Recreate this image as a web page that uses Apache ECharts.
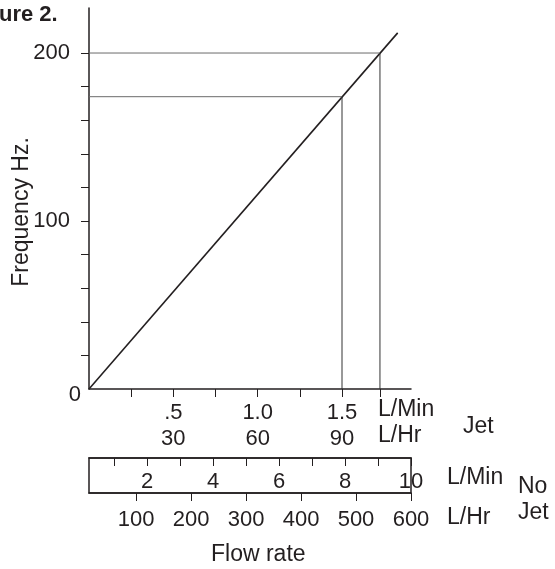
<!DOCTYPE html>
<html>
<head>
<meta charset="utf-8">
<script src="https://cdn.jsdelivr.net/npm/echarts@6/dist/echarts.min.js"></script>
<style>html,body{margin:0;padding:0;background:#fff}#c{width:555px;height:569px}</style>
</head>
<body>
<div id="c"></div>
<script>
// ---- data ----
const lineFlow = [0, 1.83];        // L/Min (jet)
const lineFreq = [0, 212];         // Hz
const guideFlow = [1.5, 1.725];    // L/Min read-offs
const guideFreq = [174, 200];      // Hz read-offs
const freqTicks = [20, 40, 60, 80, 100, 120, 140, 160, 180, 200];
const freqLabels = [0, 100, 200];
const jetTicks = [0.25, 0.5, 0.75, 1.0, 1.25, 1.5, 1.725];
const jetLabelValues = [0.5, 1.0, 1.5];
const jetMinLabels = ['.5', '1.0', '1.5'];
const jetHrLabels = ['30', '60', '90'];
const noJetMinTicks = [1, 2, 3, 4, 5, 6, 7, 8, 9, 10];
const noJetMinLabels = [2, 4, 6, 8, 10];
const noJetHrTicks = [100, 200, 300, 400, 500, 600];
const noJetHrLabels = [100, 200, 300, 400, 500, 600];

const INK = '#231f20';
const FONT = 'Liberation Sans, Arial, Helvetica, sans-serif';

const guideSeries = [];
guideFlow.forEach((x, i) => {
  const f = guideFreq[i];
  guideSeries.push({
    type: 'line', xAxisIndex: 0, yAxisIndex: 0, symbol: 'none', silent: true,
    data: [[0, f], [x, f]], lineStyle: { color: '#6a6a6a', width: 1 }
  });
  guideSeries.push({
    type: 'line', xAxisIndex: 0, yAxisIndex: 0, symbol: 'none', silent: true,
    data: [[x, 0], [x, f]], lineStyle: { color: '#333333', width: 1 }
  });
});

function near(a, b) { return Math.abs(a - b) < 1e-6; }
function txt(text, left, top) {
  return { type: 'text', left: left, top: top, silent: true,
    style: { text: text, font: '23px ' + FONT, fill: INK, lineHeight: 26 } };
}

const chart = echarts.init(document.getElementById('c'), null, { renderer: 'canvas' });
chart.setOption({
  animation: false,
  backgroundColor: '#fff',
  textStyle: { fontFamily: FONT, color: INK },
  title: {
    text: 'Figure 2.', left: -34, top: 4, padding: 0,
    textStyle: { fontFamily: FONT, fontSize: 22, fontWeight: 'bold', color: INK }
  },
  grid: [
    { left: 89, top: 8, width: 322, height: 381, show: false, containLabel: false, outerBoundsMode: 'none' },
    { left: 89, top: 458, width: 322, height: 35, show: true, borderColor: INK, borderWidth: 1.5,
      backgroundColor: 'transparent', containLabel: false, outerBoundsMode: 'none' }
  ],
  xAxis: [
    {
      gridIndex: 0, type: 'value', min: 0, max: 1.909, position: 'bottom',
      splitLine: { show: false },
      axisLine: { show: true, onZero: false, lineStyle: { color: INK, width: 1.5 } },
      axisTick: { show: true, customValues: jetTicks, length: 8, inside: false, lineStyle: { color: INK, width: 1 } },
      axisLabel: {
        show: true, customValues: jetLabelValues, margin: 11, color: INK,
        formatter: function (v) {
          for (let i = 0; i < jetLabelValues.length; i++) {
            if (near(v, jetLabelValues[i])) {
              return '{n|' + jetMinLabels[i] + '}\n{n|' + jetHrLabels[i] + '}';
            }
          }
          return '';
        },
        rich: {
          n: { fontFamily: FONT, fontSize: 22, lineHeight: 26, color: INK, align: 'center' }
        }
      }
    },
    {
      gridIndex: 1, type: 'value', min: 0.242, max: 10, position: 'top',
      splitLine: { show: false },
      axisLine: { show: true, onZero: false, lineStyle: { color: INK, width: 1.5 } },
      axisTick: { show: true, customValues: noJetMinTicks, length: 8, inside: true, lineStyle: { color: INK, width: 1 } },
      axisLabel: { show: true, inside: true, customValues: noJetMinLabels, margin: 13, fontSize: 22, fontFamily: FONT, color: INK }
    },
    {
      gridIndex: 1, type: 'value', min: 14.5, max: 600, position: 'bottom',
      splitLine: { show: false },
      axisLine: { show: true, onZero: false, lineStyle: { color: INK, width: 1.5 } },
      axisTick: { show: true, customValues: noJetHrTicks, length: 8, inside: false, lineStyle: { color: INK, width: 1 } },
      axisLabel: { show: true, customValues: noJetHrLabels, margin: 16, fontSize: 22, fontFamily: FONT, color: INK }
    }
  ],
  yAxis: [
    {
      gridIndex: 0, type: 'value', min: 0, max: 226.8,
      splitLine: { show: false },
      axisLine: { show: true, onZero: false, lineStyle: { color: INK, width: 1.5 } },
      axisTick: { show: true, customValues: freqTicks, length: 8, inside: false, lineStyle: { color: INK, width: 1 } },
      axisLabel: {
        show: true, customValues: freqLabels, margin: 8,
        formatter: function (v) { return v === 0 ? '{z|0}' : '{o|' + v + '}'; },
        rich: {
          z: { fontFamily: FONT, fontSize: 22, color: INK, padding: [12, 0, 0, 0] },
          o: { fontFamily: FONT, fontSize: 22, color: INK, padding: [0, 11, 0, 0] }
        }
      },
      name: 'Frequency Hz.', nameLocation: 'middle', nameRotate: 90, nameGap: 56, nameMoveOverlap: false,
      nameTextStyle: { fontFamily: FONT, fontSize: 23, color: INK, padding: [0, 27, 0, 0] }
    },
    { gridIndex: 1, type: 'value', min: 0, max: 1, show: false }
  ],
  graphic: [
    txt('L/Min\nL/Hr', 378, 397),
    txt('Jet', 463, 414),
    txt('L/Min', 447, 465),
    txt('L/Hr', 447, 505),
    txt('No\nJet', 518, 474),
    txt('Flow rate', 211, 542)
  ],
  series: [
    {
      type: 'line', xAxisIndex: 0, yAxisIndex: 0, symbol: 'none', silent: true,
      data: lineFlow.map((x, i) => [x, lineFreq[i]]),
      lineStyle: { color: INK, width: 1.6 }
    }
  ].concat(guideSeries)
});
</script>
</body>
</html>
